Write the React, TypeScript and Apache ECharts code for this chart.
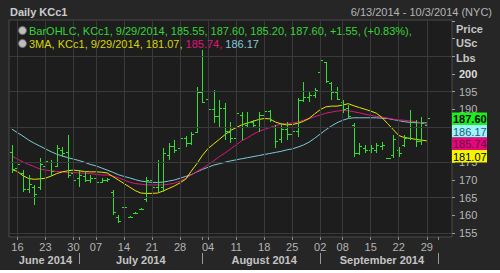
import React, { useEffect, useRef } from "react";
import * as echarts from "echarts";

const dates = [
  "2014-06-13","2014-06-16","2014-06-17","2014-06-18","2014-06-19","2014-06-20","2014-06-23","2014-06-24","2014-06-25","2014-06-26","2014-06-27","2014-06-30",
  "2014-07-01","2014-07-02","2014-07-03","2014-07-07","2014-07-08","2014-07-09","2014-07-10","2014-07-11","2014-07-14","2014-07-15","2014-07-16","2014-07-17","2014-07-18","2014-07-21","2014-07-22","2014-07-23","2014-07-24","2014-07-25","2014-07-28","2014-07-29","2014-07-30","2014-07-31",
  "2014-08-01","2014-08-04","2014-08-05","2014-08-06","2014-08-07","2014-08-08","2014-08-11","2014-08-12","2014-08-13","2014-08-14","2014-08-15","2014-08-18","2014-08-19","2014-08-20","2014-08-21","2014-08-22","2014-08-25","2014-08-26","2014-08-27","2014-08-28","2014-08-29",
  "2014-09-02","2014-09-03","2014-09-04","2014-09-05","2014-09-08","2014-09-09","2014-09-10","2014-09-11","2014-09-12","2014-09-15","2014-09-16","2014-09-17","2014-09-18","2014-09-19","2014-09-22","2014-09-23","2014-09-24","2014-09-25","2014-09-26","2014-09-29","2014-09-30",
  "2014-10-01","2014-10-02","2014-10-03"
];

const open = [
  178.0,173.5,172.0,167.5,168.0,168.0,174.0,175.0,174.0,178.5,
  178.0,172.0,170.5,171.0,170.0,170.5,169.5,170.0,166.5,159.5,
  162.4,159.6,160.6,161.8,164.5,170.0,168.0,168.0,177.0,179.5,
  179.0,182.0,180.5,183.7,195.0,193.0,190.0,188.0,190.5,183.5,
  182.0,188.5,185.5,186.5,185.0,188.5,189.5,185.0,181.5,184.5,
  183.0,184.0,192.5,193.5,194.0,200.5,203.5,197.5,195.0,192.0,
  190.5,185.5,177.5,179.0,178.5,178.5,179.5,176.2,177.0,178.5,
  180.0,182.0,186.5,181.0,185.55
];
const high = [
  179.9,177.1,172.8,171.4,168.6,176.1,176.1,175.7,179.9,179.4,
  182.7,173.3,172.8,172.4,171.4,171.0,170.5,170.5,167.2,160.1,
  162.6,159.8,160.8,162.0,170.9,172.4,175.7,179.0,180.4,181.3,
  183.2,182.5,183.5,196.4,206.8,195.5,195.5,192.6,191.7,186.5,
  189.8,189.3,189.3,187.0,189.3,190.3,189.8,185.6,186.0,186.5,
  185.1,193.1,197.8,195.0,196.0,204.9,203.5,197.8,196.4,192.6,
  191.2,186.0,180.4,179.9,179.9,180.4,180.8,176.3,182.7,179.4,
  182.7,189.8,187.0,187.9,187.6
];
const low = [
  171.9,172.4,166.7,166.2,162.9,167.2,171.0,171.0,173.8,176.6,
  170.5,168.6,168.1,169.5,169.1,165.3,169.1,169.5,160.1,157.7,
  162.2,159.4,160.4,161.6,163.9,166.7,166.7,166.7,175.7,177.5,
  178.2,179.2,179.9,183.2,191.7,183.2,186.0,184.6,181.3,180.4,
  181.3,181.3,185.1,184.6,183.7,187.0,186.5,179.0,180.4,181.3,
  180.8,182.3,192.2,192.2,193.1,200.2,197.4,192.6,192.6,188.9,
  187.5,176.6,177.1,177.5,177.5,177.5,178.5,176.0,176.1,176.6,
  179.4,181.3,179.4,179.9,185.2
];
const close = [
  173.0,174.5,167.5,169.0,166.0,174.5,175.5,172.5,179.0,177.5,
  171.5,170.0,171.5,170.0,170.5,169.5,170.0,170.2,161.0,158.5,
  162.4,159.6,160.6,161.8,170.0,168.0,175.0,177.5,179.5,178.5,
  182.0,180.5,183.0,195.0,192.2,190.0,188.0,190.5,184.0,182.0,
  189.0,185.0,186.5,185.5,188.5,189.5,187.0,181.0,184.5,183.0,
  184.0,192.5,193.5,194.0,195.5,204.0,198.0,195.0,193.0,190.0,
  188.0,177.5,179.5,178.5,179.0,180.0,180.0,176.2,181.5,177.5,
  182.0,186.5,181.0,186.05,187.6
];

// three moving averages (yellow, magenta, cyan)
const maYellow = [
  173.0,172.4,171.2,170.4,170.2,170.3,170.5,171.1,171.8,172.3,
  172.6,172.8,172.6,172.4,172.3,172.3,172.2,172.0,171.0,170.0,
  169.0,168.0,167.0,166.3,166.2,166.2,166.3,166.9,167.6,168.3,
  169.2,170.2,172.5,174.6,177.0,178.9,180.2,181.5,182.8,184.0,
  184.8,185.6,186.1,186.6,187.1,187.4,187.3,186.4,185.9,185.6,
  185.7,186.0,186.6,187.4,188.7,189.9,190.7,190.9,190.9,191.2,
  191.6,191.0,190.5,190.0,189.5,188.9,187.7,186.0,184.3,182.6,
  182.0,181.8,181.5,181.3,181.07
];
const maMagenta = [
  176.8,175.9,175.1,174.4,173.8,173.1,172.8,172.6,172.4,172.3,
  172.1,172.1,172.0,171.9,171.8,171.6,171.4,171.4,171.1,170.6,
  170.0,169.4,169.0,168.8,168.6,168.6,168.6,168.6,168.8,169.1,
  169.7,170.4,171.4,172.4,173.3,174.3,175.4,176.6,177.6,178.8,
  179.9,181.1,181.9,182.9,183.7,184.3,184.8,185.4,185.8,186.0,
  186.1,186.4,186.9,187.4,187.9,188.4,188.9,189.2,189.5,189.7,
  189.6,189.3,189.0,188.6,188.3,188.0,187.8,187.5,187.2,187.0,
  186.9,186.7,186.5,186.2,185.74
];
const maCyan = [
  184.4,183.4,182.4,181.3,180.4,179.6,178.8,178.0,177.3,176.8,
  176.3,175.9,175.5,175.0,174.4,174.0,173.4,172.8,172.2,171.5,
  171.0,170.6,170.1,169.7,169.5,169.3,169.3,169.4,169.7,170.0,
  170.5,171.0,171.5,172.3,173.0,173.6,174.2,174.6,175.0,175.4,
  175.7,176.0,176.3,176.6,176.9,177.2,177.5,177.8,178.1,178.5,
  178.8,179.3,179.9,180.7,181.8,183.0,184.2,185.3,186.2,186.9,
  187.4,187.6,187.6,187.6,187.6,187.6,187.5,187.4,187.1,186.8,
  186.5,186.3,186.2,186.2,186.17
];

// labels 180 and 185 sit fully behind the last-value tags in the reference
const yLabelValues = [155, 160, 165, 170, 175, 190, 195, 200];
const gridLevels = [155, 165, 175, 185, 195, 205];
const dayLabelIdx = [1, 6, 11, 15, 20, 25, 30, 35, 40, 45, 50, 55, 59, 64, 69, 74];
const monthStartIdx = [12, 34, 55, 76];
const monthLabelIdx = [6, 23, 45, 66];
const monthNames = ["June 2014", "July 2014", "August 2014", "September 2014"];

const lastTags = [
  { text: "187.60", bg: "#19f219", fg: "#000000", bold: true },
  { text: "186.17", bg: "#9ff3fb", fg: "#1d5d78", bold: false },
  { text: "185.74", bg: "#e3077c", fg: "#6a0a3c", bold: false },
  { text: "181.07", bg: "#f5f500", fg: "#000000", bold: false },
];

const FONT = "Liberation Sans";
const GREEN = "#30e030";
const YELLOW = "#e6e600";
const MAGENTA = "#e0157a";
const CYAN = "#7ccbd8";

export default function App() {
  const ref = useRef<HTMLDivElement>(null);
  useEffect(() => {
    document.body.style.margin = "0";
    document.body.style.background = "#ffffff";
    const chart = echarts.init(ref.current!, null, { renderer: "svg" });
    const ohlc = close.map((c, i) => [i, open[i], high[i], low[i], c]);
    const crisp = (v: number) => Math.round(v) + 0.5;

    const tagGraphics: any[] = [];
    lastTags.forEach((t, k) => {
      const y = 112.5 + k * 12.5;
      tagGraphics.push({
        type: "rect",
        shape: { x: 452, y, width: 35, height: 12.5 },
        style: { fill: t.bg },
        z: 100,
      });
      tagGraphics.push({
        type: "text",
        x: 453,
        y: y + 6.5,
        style: {
          text: t.text,
          fill: t.fg,
          font: `${t.bold ? "bold " : ""}11px "${FONT}"`,
          verticalAlign: "middle",
          align: "left",
        },
        z: 101,
      });
    });

    const option: any = {
      animation: false,
      backgroundColor: "#262626",
      grid: {
        left: 9,
        top: 20,
        width: 443,
        height: 217,
        show: true,
        backgroundColor: "#1d1d1d",
        borderColor: "#4a4a4a",
        borderWidth: 1,
      },
      xAxis: [
        {
          type: "category",
          data: dates,
          boundaryGap: true,
          axisLine: { show: false },
          axisTick: {
            show: true,
            alignWithLabel: true,
            length: 3,
            interval: (i: number) => dayLabelIdx.includes(i) || monthStartIdx.includes(i),
            lineStyle: { color: "#8a8a8a" },
          },
          axisLabel: {
            interval: (i: number) => dayLabelIdx.includes(i),
            formatter: (v: string) => v.slice(8, 10),
            color: "#b4b4b4",
            fontFamily: FONT,
            fontSize: 11,
            margin: 4,
          },
          splitLine: { show: false },
        },
        {
          type: "category",
          data: dates,
          position: "bottom",
          offset: 16,
          boundaryGap: true,
          axisLine: { show: false },
          axisTick: {
            show: true,
            alignWithLabel: true,
            length: 11,
            interval: (i: number) => monthStartIdx.includes(i),
            lineStyle: { color: "#9a9a9a" },
          },
          axisLabel: {
            interval: (i: number) => monthLabelIdx.includes(i),
            formatter: (_v: string, i: number) => monthNames[monthLabelIdx.indexOf(i)] || "",
            color: "#c4c4c4",
            fontFamily: FONT,
            fontWeight: "bold",
            fontSize: 11,
            margin: 1,
          },
          splitLine: { show: false },
        },
      ],
      yAxis: {
        type: "value",
        position: "right",
        min: 153.86,
        max: 215.28,
        splitNumber: 12,
        minInterval: 5,
        maxInterval: 5,
        axisLine: { show: false },
        axisTick: { show: true, length: 3, lineStyle: { color: "#9a9a9a" } },
        splitLine: { show: false },
        axisLabel: {
          margin: 7,
          showMinLabel: false,
          showMaxLabel: false,
          formatter: (v: number) => {
            if (!yLabelValues.includes(v)) return "";
            return v === 200 ? `{b|${v}}` : `${v}`;
          },
          color: "#b8b8b8",
          fontFamily: FONT,
          fontSize: 11,
          rich: {
            b: { fontWeight: "bold", color: "#dcdcdc", fontFamily: FONT, fontSize: 11 },
          },
        },
      },
      series: [
        {
          name: "grid",
          type: "line",
          data: [],
          z: 1,
          silent: true,
          markLine: {
            silent: true,
            symbol: "none",
            label: { show: false },
            lineStyle: { color: "#3a3a3a", width: 1, type: "solid" },
            data: [
              ...gridLevels.map((v) => ({ yAxis: v })),
              ...dayLabelIdx.map((i) => ({ xAxis: dates[i] })),
            ],
          },
        },
        {
          name: "MA3",
          type: "line",
          data: maCyan,
          showSymbol: false,
          z: 3,
          lineStyle: { color: CYAN, width: 1 },
        },
        {
          name: "MA2",
          type: "line",
          data: maMagenta,
          showSymbol: false,
          z: 3,
          lineStyle: { color: MAGENTA, width: 1 },
        },
        {
          name: "MA1",
          type: "line",
          data: maYellow,
          showSymbol: false,
          z: 3,
          lineStyle: { color: YELLOW, width: 1 },
        },
        {
          name: "BarOHLC",
          type: "custom",
          z: 4,
          encode: { x: 0, y: [1, 2, 3, 4] },
          data: ohlc,
          renderItem: (params: any, api: any) => {
            const i = api.value(0);
            const pO = api.coord([i, api.value(1)]);
            const pH = api.coord([i, api.value(2)]);
            const pL = api.coord([i, api.value(3)]);
            const pC = api.coord([i, api.value(4)]);
            const x = crisp(pO[0]);
            const style = { stroke: GREEN, lineWidth: 1, fill: null };
            let yTop = Math.round(pH[1]);
            let yBot = Math.round(pL[1]);
            if (yBot - yTop < 1) yBot = yTop + 1;
            return {
              type: "group",
              children: [
                { type: "line", shape: { x1: x, y1: yTop, x2: x, y2: yBot }, style },
                { type: "line", shape: { x1: x - 2.5, y1: crisp(pO[1]), x2: x, y2: crisp(pO[1]) }, style },
                { type: "line", shape: { x1: x, y1: crisp(pC[1]), x2: x + 2.5, y2: crisp(pC[1]) }, style },
              ],
            };
          },
        },
      ],
      graphic: [
        {
          type: "text",
          left: 10,
          top: 6,
          style: { text: "Daily KCc1", fill: "#cccccc", font: `bold 11px "${FONT}"` },
        },
        {
          type: "text",
          right: 8,
          top: 6,
          style: { text: "6/13/2014 - 10/3/2014 (NYC)", fill: "#b4b4b4", font: `11px "${FONT}"` },
        },
        {
          type: "circle",
          shape: { cx: 22.5, cy: 30.5, r: 4 },
          style: { fill: "#bdbdbd", stroke: "#6a6a6a", lineWidth: 1 },
          z: 100,
        },
        {
          type: "circle",
          shape: { cx: 22.5, cy: 43.5, r: 4 },
          style: { fill: "#bdbdbd", stroke: "#6a6a6a", lineWidth: 1 },
          z: 100,
        },
        {
          type: "text",
          x: 29,
          y: 30.5,
          z: 100,
          style: {
            text: "BarOHLC, KCc1, 9/29/2014, 185.55, 187.60, 185.20, 187.60, +1.55, (+0.83%),",
            fill: "#36d436",
            font: `11px "${FONT}"`,
            verticalAlign: "middle",
          },
        },
        {
          type: "text",
          x: 29,
          y: 43.5,
          z: 100,
          style: {
            text: "{y|3MA, KCc1, 9/29/2014, 181.07, }{m|185.74, }{c|186.17}",
            verticalAlign: "middle",
            font: `11px "${FONT}"`,
            rich: {
              y: { fill: "#d6d600", font: `11px "${FONT}"` },
              m: { fill: "#e0157a", font: `11px "${FONT}"` },
              c: { fill: "#86c8d8", font: `11px "${FONT}"` },
            },
          },
        },
        {
          type: "text",
          x: 456,
          y: 28.5,
          style: { text: "Price", fill: "#c4c4c4", font: `bold 11px "${FONT}"`, verticalAlign: "middle" },
        },
        {
          type: "text",
          x: 456,
          y: 43,
          style: { text: "USc", fill: "#c4c4c4", font: `bold 11px "${FONT}"`, verticalAlign: "middle" },
        },
        {
          type: "text",
          x: 456,
          y: 57.5,
          style: { text: "Lbs", fill: "#c4c4c4", font: `bold 11px "${FONT}"`, verticalAlign: "middle" },
        },
        ...tagGraphics,
      ],
    };
    chart.setOption(option);
    return () => chart.dispose();
  }, []);

  return (
    <div style={{ width: 500, height: 273, background: "#ffffff" }}>
      <div ref={ref} style={{ width: 500, height: 270 }} />
    </div>
  );
}
